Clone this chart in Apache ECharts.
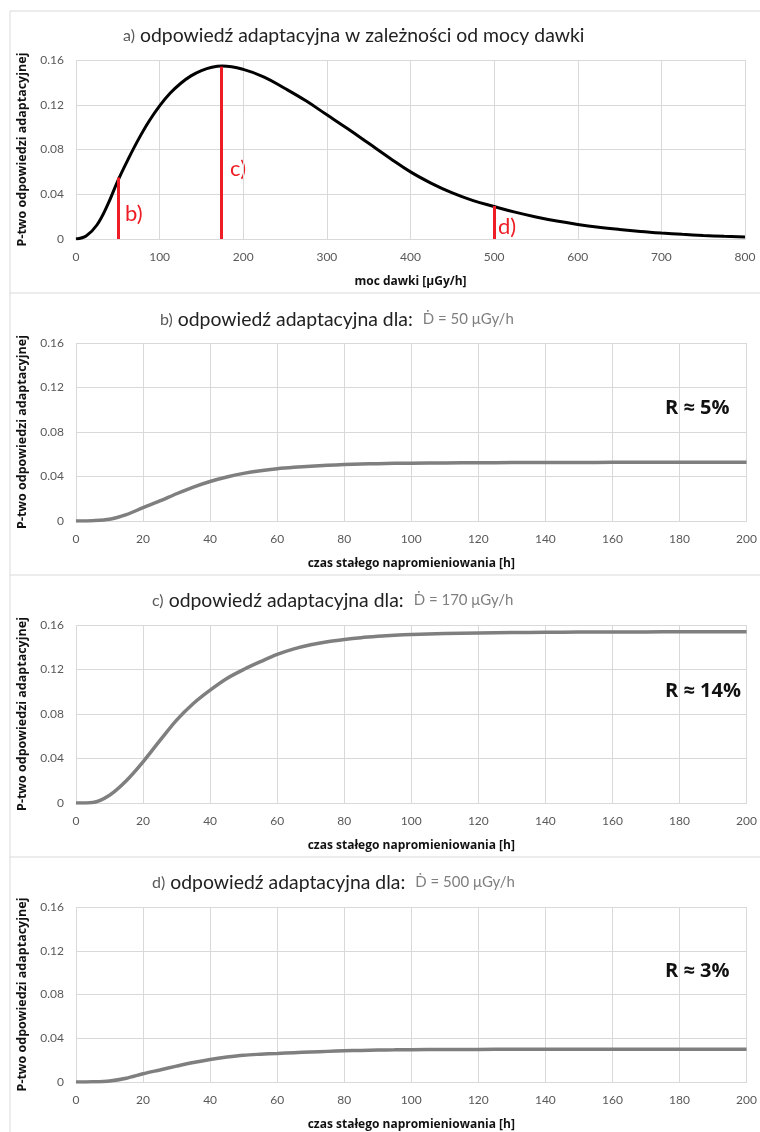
<!DOCTYPE html>
<html>
<head>
<meta charset="utf-8">
<script src="https://cdn.jsdelivr.net/npm/echarts@6/dist/echarts.min.js"></script>
<style>
  html, body { margin: 0; padding: 0; background: #fff; }
  #chart { width: 760px; height: 1132px; }
</style>
</head>
<body>
<div id="chart"></div>
<script>
// panel a: response vs dose rate
const doseRates = [0, 12.5, 25, 37.5, 50, 62.5, 75, 87.5, 100, 112.5, 125, 137.5, 150, 162.5, 175, 200, 225, 250, 275, 300, 325, 350, 375, 400, 425, 450, 475, 500, 525, 550, 575, 600, 625, 650, 675, 700, 725, 750, 775, 800];
const responseByDose = [0, 0.003, 0.0125, 0.030, 0.052, 0.0715, 0.0895, 0.1055, 0.119, 0.1302, 0.139, 0.1458, 0.1505, 0.1535, 0.1546, 0.1516, 0.1447, 0.1345, 0.1235, 0.111, 0.0985, 0.0855, 0.0725, 0.060, 0.0498, 0.0412, 0.0343, 0.029, 0.024, 0.0197, 0.016, 0.013, 0.0105, 0.0085, 0.0068, 0.0054, 0.0042, 0.0032, 0.0024, 0.0017];

// red markers b), c), d)
const markerLabels = ["b)", "c)", "d)"];
const markerDoses = [51, 174, 500];
const markerTops = [0.055, 0.154, 0.0295];

// panels b-d: response vs exposure time
const hours = [0, 5, 10, 15, 20, 25, 30, 35, 40, 45, 50, 55, 60, 65, 70, 75, 80, 85, 90, 95, 100, 110, 120, 130, 140, 150, 160, 170, 180, 190, 200];
const responseB = [0, 0.0003, 0.0015, 0.0057, 0.012, 0.018, 0.0245, 0.0305, 0.0355, 0.0395, 0.0428, 0.0452, 0.047, 0.0483, 0.0493, 0.0501, 0.0507, 0.0512, 0.0515, 0.0518, 0.052, 0.0522, 0.0524, 0.0525, 0.0526, 0.0526, 0.0527, 0.0527, 0.0528, 0.0528, 0.0528];
const responseC = [0, 0.0005, 0.007, 0.020, 0.037, 0.056, 0.0745, 0.0895, 0.1015, 0.112, 0.120, 0.127, 0.1335, 0.1385, 0.1422, 0.145, 0.147, 0.1486, 0.1498, 0.1508, 0.1515, 0.1523, 0.1528, 0.1532, 0.1534, 0.1536, 0.1537, 0.1538, 0.1539, 0.154, 0.154];
const responseD = [0, 0.0002, 0.001, 0.0035, 0.0075, 0.011, 0.0145, 0.0178, 0.0206, 0.0228, 0.0245, 0.0254, 0.0261, 0.0268, 0.0274, 0.028, 0.0285, 0.0289, 0.0292, 0.0294, 0.0296, 0.0297, 0.0298, 0.0299, 0.0299, 0.030, 0.030, 0.030, 0.030, 0.030, 0.030];

const panelLetters = ["a)", "b)", "c)", "d)"];
const panelDoses = ["50", "170", "500"];
const rValues = ["R ≈ 5%", "R ≈ 14%", "R ≈ 3%"];

const FONT = "Lato, 'Open Sans', sans-serif";
const BOLD_FONT = "'Open Sans', Lato, sans-serif";
const GRID_COLOR = "#d9d9d9";
const LABEL_COLOR = "#595959";

const grids = [
  { left: 76, width: 669, top: 60, height: 179 },
  { left: 76, width: 671, top: 343, height: 178 },
  { left: 76, width: 671, top: 625, height: 178 },
  { left: 76, width: 671, top: 907, height: 179 },
];

const yName = "P-two odpowiedzi adaptacyjnej";

function makeXAxis(i, max, interval, name) {
  return {
    type: "value", gridIndex: i, min: 0, max: max, interval: interval,
    name: name, nameLocation: "middle", nameGap: 37,
    nameTextStyle: { fontFamily: BOLD_FONT, fontWeight: "bold", fontSize: 12, color: "#111" },
    axisLine: { show: true, lineStyle: { color: GRID_COLOR, width: 1 } },
    axisTick: { show: false },
    axisLabel: { color: LABEL_COLOR, fontFamily: FONT, fontSize: 12, margin: 12 },
    splitLine: { show: true, lineStyle: { color: GRID_COLOR, width: 1 } },
  };
}

function makeYAxis(i) {
  return {
    type: "value", gridIndex: i, min: 0, max: 0.16, interval: 0.04,
    name: yName, nameLocation: "middle", nameGap: 46, nameRotate: 90,
    nameTextStyle: { fontFamily: BOLD_FONT, fontWeight: "bold", fontSize: 12.5, color: "#111" },
    axisLine: { show: false },
    axisTick: { show: false },
    axisLabel: {
      color: LABEL_COLOR, fontFamily: FONT, fontSize: 12, margin: 12,
      formatter: (v) => (v === 0 ? "0" : v.toFixed(2)),
    },
    splitLine: { show: true, lineStyle: { color: GRID_COLOR, width: 1 } },
  };
}

const xAxes = [makeXAxis(0, 800, 100, "moc dawki [μGy/h]")];
const yAxes = [makeYAxis(0)];
for (let i = 1; i < 4; i++) {
  xAxes.push(makeXAxis(i, 200, 20, "czas stałego napromieniowania [h]"));
  yAxes.push(makeYAxis(i));
}

const titleRich = {
  g: { fontFamily: FONT, fontWeight: "normal", fontSize: 16, color: LABEL_COLOR },
  t: { fontFamily: FONT, fontWeight: "normal", fontSize: 19.4, color: "#222" },
  s: { fontFamily: FONT, fontWeight: "normal", fontSize: 15, color: "#7f7f7f", padding: [0, 0, 0, 5] },
};
const titleLefts = [118, 155, 147, 147];
const titleTops = [21, 305, 586, 868];
const titles = [
  {
    left: titleLefts[0], top: titleTops[0],
    text: "{g|" + panelLetters[0] + "} {t|odpowiedź adaptacyjna w zależności od mocy dawki}",
    textStyle: { fontWeight: "normal", rich: titleRich },
  },
];
for (let i = 1; i < 4; i++) {
  titles.push({
    left: titleLefts[i], top: titleTops[i],
    text: "{g|" + panelLetters[i] + "} {t|odpowiedź adaptacyjna dla:} {s|Ḋ = " + panelDoses[i - 1] + " μGy/h}",
    textStyle: { fontWeight: "normal", rich: titleRich },
  });
}

const timeSeries = [responseB, responseC, responseD].map((vals, k) => ({
  type: "line", xAxisIndex: k + 1, yAxisIndex: k + 1,
  data: hours.map((h, j) => [h, vals[j]]),
  smooth: 0.3, symbol: "none",
  lineStyle: { color: "#7f7f7f", width: 3.5 },
  silent: true,
}));

const markerLines = markerDoses.map((d, k) => [
  { coord: [d, 0] },
  { coord: [d, markerTops[k]] },
]);

// marker letter positions (pixel), beside each red line
const markerTextPos = [[125, 203], [230, 158], [498, 216]];

const graphics = [];
// panel frames (Excel chart borders)
const sepY = [11, 293, 575, 857];
sepY.forEach((y) => {
  graphics.push({ type: "line", shape: { x1: 10, y1: y, x2: 760, y2: y }, style: { stroke: GRID_COLOR, lineWidth: 1 } });
});
graphics.push({ type: "line", shape: { x1: 10, y1: 11, x2: 10, y2: 1132 }, style: { stroke: GRID_COLOR, lineWidth: 1 } });
markerLabels.forEach((t, k) => {
  graphics.push({
    type: "text", left: markerTextPos[k][0], top: markerTextPos[k][1],
    style: { text: t, fill: "#ee1c25", font: "22px " + FONT },
  });
});
const rTops = [398, 681, 961];
rValues.forEach((t, k) => {
  graphics.push({
    type: "text", left: 665, top: rTops[k],
    style: { text: t, fill: "#111", font: "bold 20px " + BOLD_FONT },
  });
});

const option = {
  backgroundColor: "#fff",
  animation: false,
  title: titles,
  grid: grids,
  xAxis: xAxes,
  yAxis: yAxes,
  graphic: graphics,
  series: [
    {
      type: "line", xAxisIndex: 0, yAxisIndex: 0,
      data: doseRates.map((d, j) => [d, responseByDose[j]]),
      smooth: 0.4, symbol: "none",
      lineStyle: { color: "#000", width: 3 },
      z: 3,
      markLine: {
        symbol: "none", silent: true,
        label: { show: false },
        lineStyle: { color: "#ee1c25", width: 3, type: "solid" },
        data: markerLines,
      },
    },
    ...timeSeries,
  ],
};

echarts.init(document.getElementById("chart")).setOption(option);
</script>
</body>
</html>
